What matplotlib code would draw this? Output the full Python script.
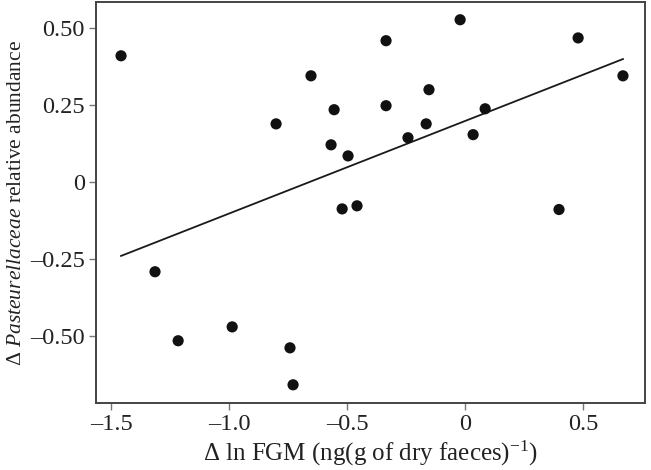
import matplotlib
matplotlib.use('Agg')
import matplotlib.pyplot as plt
import numpy as np

# change in log FGM vs change in Pasteurellaceae relative abundance
fgm = [-1.458, -1.314, -1.216, -0.987, -0.801, -0.742, -0.729, -0.653, -0.568, -0.555,
       -0.496, -0.521, -0.458, -0.335, -0.335, -0.242, -0.165, -0.153, -0.021, 0.034,
       0.085, 0.398, 0.479, 0.669]
abund = [0.409, -0.292, -0.516, -0.471, 0.188, -0.539, -0.659, 0.344, 0.120, 0.234,
         0.084, -0.088, -0.078, 0.458, 0.247, 0.143, 0.188, 0.299, 0.526, 0.153,
         0.237, -0.090, 0.467, 0.344]

xticks = [-1.5, -1.0, -0.5, 0, 0.5]
xticklabels = ['\u20131.5', '\u20131.0', '\u20130.5', '0', '0.5']
yticks = [0.5, 0.25, 0, -0.25, -0.5]
yticklabels = ['0.50', '0.25', '0', '\u20130.25', '\u20130.50']

plt.rcParams['font.family'] = ['Liberation Serif', 'DejaVu Serif']
plt.rcParams['mathtext.fontset'] = 'custom'
plt.rcParams['mathtext.rm'] = 'Liberation Serif'
plt.rcParams['mathtext.it'] = 'Liberation Serif:italic'

fig = plt.figure(figsize=(6.51, 4.70), dpi=100)
ax = fig.add_axes([0.1475, 0.1426, 0.8435, 0.8534])

x = np.array(fgm)
y = np.array(abund)
# least squares line over the data range
slope, icept = np.polyfit(x, y, 1)
xl = np.array([x.min(), x.max()])
ax.plot(xl, icept + slope * xl, color='#1a1a1a', lw=1.3)
ax.scatter(x, y, s=65, color='#111111', zorder=3, edgecolors='none')

ax.set_xlim(-1.564, 0.763)
ax.set_ylim(-0.718, 0.584)
ax.set_xticks(xticks)
ax.set_xticklabels(xticklabels)
ax.set_yticks(yticks)
ax.set_yticklabels(yticklabels)
ax.tick_params(direction='out', length=5, width=1, color='#777777',
               labelsize=17.5, labelcolor='#222222', pad=3)
for sp in ax.spines.values():
    sp.set_color('#444444')
    sp.set_linewidth(1.4)

ax.set_xlabel('\u0394 ln FGM (ng(g of dry faeces)$^{\u22121}$)', fontsize=18,
              color='#222222', labelpad=3)
ax.set_ylabel('\u0394 $\\mathit{Pasteurellaceae}$ relative abundance', fontsize=15.5,
              color='#222222', labelpad=3)

fig.savefig('out.png', dpi=100)
